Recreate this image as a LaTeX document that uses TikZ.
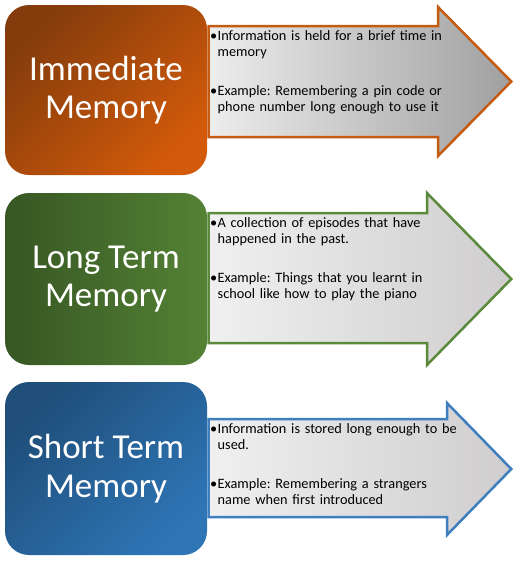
\documentclass[tikz,border=0pt]{standalone}
\usepackage{fontspec}
\setmainfont{Carlito}
\definecolor{imA}{HTML}{843C0C}
\definecolor{imB}{HTML}{D25A0A}
\definecolor{ltA}{HTML}{375623}
\definecolor{ltB}{HTML}{548235}
\definecolor{stA}{HTML}{1F4E79}
\definecolor{stB}{HTML}{2E75B6}
\definecolor{brdO}{HTML}{C55A11}
\definecolor{brdG}{HTML}{5B8A3C}
\definecolor{brdB}{HTML}{3F7FC0}
\definecolor{grA}{HTML}{EDEDED}
\definecolor{grB}{HTML}{A0A0A0}
\definecolor{grC}{HTML}{F0F0F0}
\definecolor{grD}{HTML}{CFCDCD}
\newcommand\membul[1]{\hangindent=7.5pt\hangafter=1\noindent\makebox[7.5pt][l]{\textbullet}#1\par}
\begin{document}
\begin{tikzpicture}[x=1pt,y=-1pt]
\tikzset{
  membox/.style={rounded corners=24pt, minimum width=202pt, minimum height=#1,
    inner sep=0pt, text=white, align=center, font=\fontsize{35}{38.5}\selectfont},
  arrowshape/.style={line width=2.5pt, line join=miter},
  bullettext/.style={anchor=base west, inner sep=0pt, text width=280pt,
    font=\fontsize{14.3}{15.7}\selectfont\frenchspacing}
}
\useasboundingbox[fill=white] (0,0) rectangle (516,562);

% arrows
\draw[arrowshape, draw=brdO, left color=grA, right color=grB]
  (208.5,26) -- (438,26) -- (438,7) -- (511.3,81.5) -- (438,156) -- (438,137) -- (208.5,137) -- cycle;
\draw[arrowshape, draw=brdG, left color=grC, right color=grD]
  (208.5,213) -- (427,213) -- (427,193) -- (511.3,279) -- (427,365) -- (427,343) -- (208.5,343) -- cycle;
\draw[arrowshape, draw=brdB, left color=grC, right color=grD]
  (208.5,419) -- (447,419) -- (447,403) -- (511.3,469) -- (447,535) -- (447,517) -- (208.5,517) -- cycle;

% boxes
\node[membox=170pt, top color=imA, bottom color=imB, shading angle=45] (im) at (106,90) {Immediate\\Memory};
\node[membox=172pt, left color=ltA, right color=ltB] (lt) at (106,279) {Long Term\\Memory};
\node[membox=173pt, top color=stA, bottom color=stB, shading angle=45] (st) at (106,468.5) {Short Term\\Memory};

% texts
\node[bullettext] (imt) at (210,40.7) {\parskip=0pt\raggedright
  \membul{Information is held for a brief time in\newline memory}\vskip 23.8pt
  \membul{Example: Remembering a pin code or\newline phone number long enough to use it}};
\node[bullettext] (ltt) at (210,227.7) {\parskip=0pt\raggedright
  \membul{A collection of episodes that have\newline happened in the past.}\vskip 23.8pt
  \membul{Example: Things that you learnt in\newline school like how to play the piano}};
\node[bullettext] (stt) at (210,433.3) {\parskip=0pt\raggedright
  \membul{Information is stored long enough to be\newline used.}\vskip 23.8pt
  \membul{Example: Remembering a strangers\newline name when first introduced}};
\end{tikzpicture}
\end{document}
